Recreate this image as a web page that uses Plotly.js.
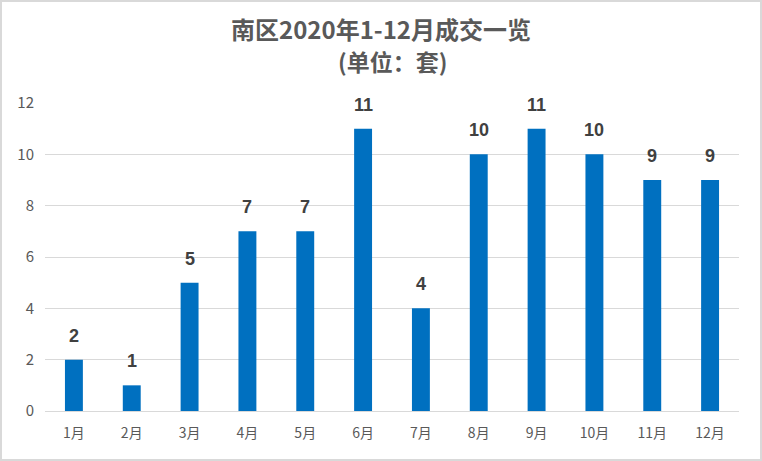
<!DOCTYPE html>
<html>
<head>
<meta charset="utf-8">
<script src="https://cdn.plot.ly/plotly-3.0.1.min.js"></script>
<style>
  html, body { margin: 0; padding: 0; background: #fff; }
  #chart { width: 758px; height: 457px; border: 2px solid #d9d9d9; }
</style>
</head>
<body>
<div id="chart"></div>
<script>
/* ── data ─────────────────────────────────────────────*/
const months = ["1月", "2月", "3月", "4月", "5月", "6月",
                "7月", "8月", "9月", "10月", "11月", "12月"];
const deals  = [2, 1, 5, 7, 7, 11, 4, 10, 11, 10, 9, 9];
const yTicks = [0, 2, 4, 6, 8, 10, 12];

const cjk = "'Noto Sans CJK SC', 'Noto Sans', sans-serif";

const trace = {
    x: months,
    y: deals,
    type: "bar",
    marker: { color: "#0070c0" },
    hoverinfo: "x+y"
};

// value labels above each bar, one per data point
const labels = months.map((m, i) => ({
    x: m,
    y: deals[i],
    xref: "x",
    yref: "y",
    text: "<b>" + deals[i] + "</b>",
    showarrow: false,
    yanchor: "middle",
    yshift: 24,
    font: { family: "'Liberation Sans', Arial, sans-serif", size: 18, color: "#404040" }
}));

// second title line (unit)
labels.push({
    x: 0.5,
    y: 1.135,
    xref: "paper",
    yref: "paper",
    xanchor: "center",
    yanchor: "middle",
    text: "<b>(单位：套)</b>",
    showarrow: false,
    font: { family: cjk, size: 23, color: "#595959" }
});

const layout = {
    width: 758,
    height: 457,
    paper_bgcolor: "#ffffff",
    plot_bgcolor: "#ffffff",
    margin: { t: 101, b: 48, l: 43, r: 21 },
    font: { family: cjk, color: "#595959", size: 14 },
    title: {
        text: "<b>南区2020年1-12月成交一览</b>",
        font: { family: cjk, size: 24, color: "#595959" },
        x: 0.5,
        xanchor: "center",
        y: 0.937,
        yanchor: "middle"
    },
    xaxis: {
        type: "category",
        showgrid: false,
        showline: false,
        ticks: "",
        ticklabelstandoff: 12,
        tickfont: { size: 14, color: "#595959" }
    },
    yaxis: {
        range: [0, 12],
        tickvals: yTicks,
        gridcolor: "#d9d9d9",
        gridwidth: 1,
        zeroline: true,
        zerolinecolor: "#d9d9d9",
        zerolinewidth: 1,
        showline: false,
        ticks: "",
        ticklabelstandoff: 10,
        tickfont: { size: 15, color: "#595959" }
    },
    annotations: labels,
    bargap: 0.69,
    showlegend: false
};

Plotly.newPlot("chart", [trace], layout, { displayModeBar: false, staticPlot: true });
</script>
</body>
</html>
